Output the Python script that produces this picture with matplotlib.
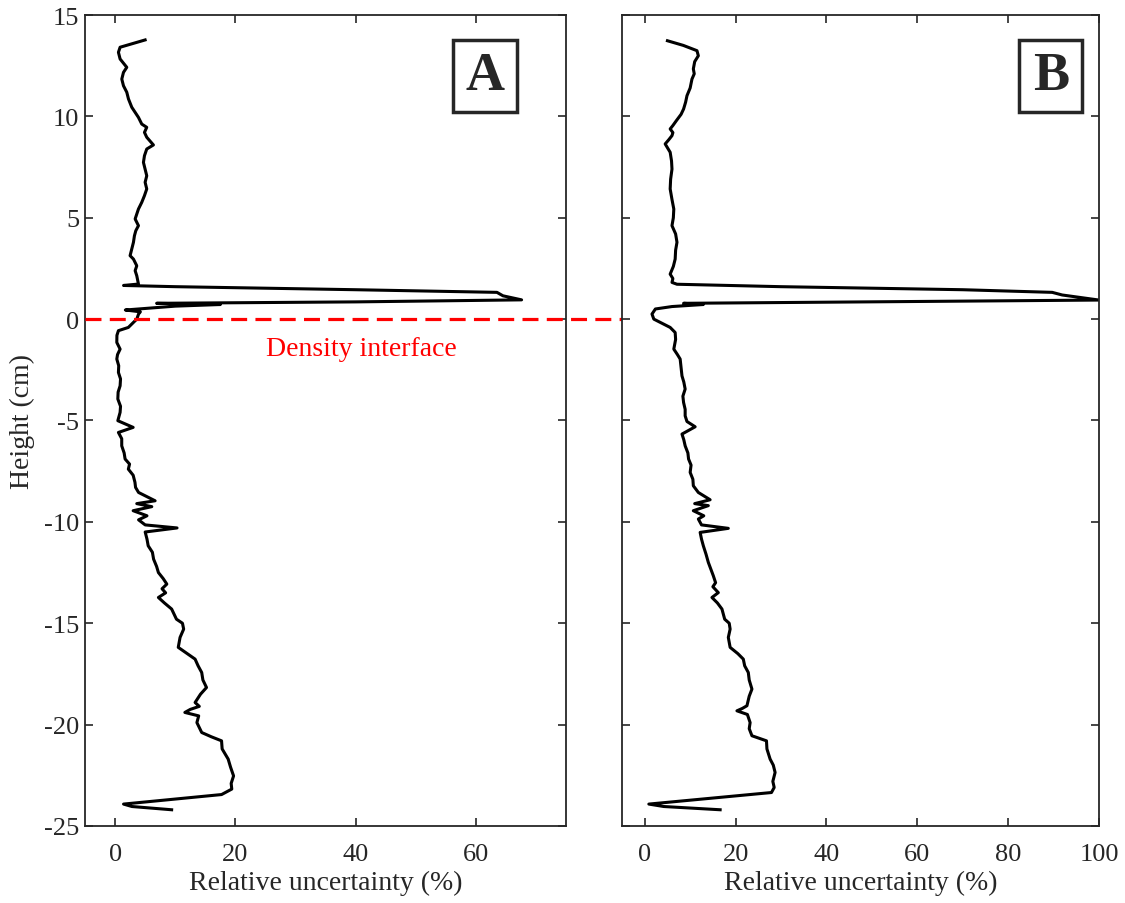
import matplotlib.pyplot as plt
import matplotlib.transforms as mtransforms
from matplotlib.patches import Rectangle

plt.rcParams['font.family'] = ['Liberation Serif', 'DejaVu Serif']
plt.rcParams['axes.unicode_minus'] = False

# height (cm) and relative uncertainty (%)
height_a = [13.77, 13.41, 13.16, 12.83, 12.42, 12.17, 11.84, 11.51, 11.19, 10.86,
            10.45, 10.2, 9.95, 9.62, 9.46, 9.21, 8.97, 8.59, 8.39, 8.06,
            7.73, 7.4, 7.07, 6.75, 6.42, 6.09, 5.76, 5.43, 5.18, 4.94,
            4.61, 4.36, 4.11, 3.79, 3.46, 3.13, 2.96, 2.63, 2.39, 2.14,
            1.73, 1.66, 1.6, 1.45, 1.32, 1.15, 0.95, 0.85, 0.78, 0.72,
            0.64, 0.45, 0.36, 0.25, 0.0, -0.41, -0.57, -0.8, -1.15, -1.48,
            -1.75, -1.97, -2.3, -2.63, -2.95, -3.29, -3.6, -3.94, -4.3, -4.6,
            -5.01, -5.34, -5.59, -5.9, -6.25, -6.6, -6.9, -7.15, -7.4, -7.7,
            -8.05, -8.3, -8.55, -8.96, -9.1, -9.25, -9.45, -9.7, -9.9, -10.15,
            -10.3, -10.5, -10.85, -11.18, -11.5, -11.84, -12.2, -12.5, -12.8, -13.07,
            -13.3, -13.5, -13.73, -14.0, -14.3, -14.8, -15.0, -15.29, -15.7, -16.19,
            -16.5, -16.77, -17.1, -17.43, -17.8, -18.17, -18.5, -18.91, -19.1, -19.25,
            -19.4, -19.57, -19.9, -20.39, -20.6, -20.8, -21.2, -21.7, -22.1, -22.53,
            -22.9, -23.18, -23.45, -23.92, -24.04, -24.2]
unc_a = [4.99, 0.83, 0.55, 0.83, 1.94, 1.39, 1.11, 1.39, 1.94, 2.22,
         2.77, 3.33, 3.88, 4.43, 5.26, 4.88, 5.26, 6.37, 5.26, 4.88,
         4.71, 4.99, 5.26, 4.99, 5.26, 4.88, 4.43, 3.88, 3.6, 3.33,
         3.88, 3.44, 3.21, 3.05, 2.77, 2.49, 3.05, 3.6, 3.33, 3.6,
         3.88, 1.4, 10, 40, 63.5, 64.5, 67.6, 40, 6.9, 17.5,
         10, 1.7, 4.2, 3.9, 3.6, 2.2, 0.55, 0.3, 0.28, 0.83,
         0.4, 0.28, 0.6, 0.55, 0.9, 0.83, 0.5, 0.45, 0.9, 0.83,
         0.45, 3.0, 0.55, 1.1, 1.1, 1.5, 1.66, 2.4, 2.2, 3.0,
         3.3, 3.4, 3.9, 6.65, 3.6, 6.1, 3.0, 5.3, 3.9, 5.0,
         10.3, 5.0, 5.3, 5.5, 6.2, 6.4, 6.9, 7.2, 8.0, 8.6,
         7.8, 8.4, 7.2, 8.2, 9.4, 10.2, 11.2, 11.4, 10.8, 10.5,
         12.0, 13.3, 13.8, 14.4, 14.6, 15.2, 14.2, 13.3, 14.0, 12.5,
         11.6, 13.9, 13.6, 14.4, 16.0, 17.7, 17.8, 18.8, 19.2, 19.7,
         19.3, 19.4, 17.7, 1.4, 2.8, 9.4]

height_b = [13.73, 13.5, 13.24, 12.99, 12.7, 12.34, 12.1, 11.84, 11.4, 11.02,
            10.7, 10.36, 10.1, 9.8, 9.55, 9.38, 9.2, 9.05, 8.85, 8.64,
            8.45, 8.23, 7.8, 7.4, 6.9, 6.42, 5.9, 5.43, 5.0, 4.61,
            4.2, 3.79, 3.4, 2.96, 2.6, 2.22, 2.0, 1.81, 1.72, 1.6,
            1.45, 1.32, 1.19, 0.94, 0.85, 0.78, 0.72, 0.62, 0.5, 0.25,
            0.0, -0.08, -0.41, -0.66, -1.0, -1.48, -1.75, -1.97, -2.4, -2.8,
            -3.1, -3.45, -3.8, -4.11, -4.45, -4.77, -5.05, -5.31, -5.67, -5.95,
            -6.25, -6.6, -6.9, -7.2, -7.56, -7.9, -8.22, -8.55, -8.91, -9.1,
            -9.2, -9.45, -9.7, -9.86, -10.15, -10.32, -10.52, -10.85, -11.18, -11.6,
            -12.0, -12.3, -12.66, -13.0, -13.2, -13.49, -13.73, -14.0, -14.3, -14.8,
            -15.0, -15.29, -15.7, -16.19, -16.5, -16.77, -17.1, -17.43, -17.8, -18.25,
            -18.6, -19.07, -19.2, -19.32, -19.5, -19.9, -20.2, -20.55, -20.8, -21.2,
            -21.7, -22.0, -22.36, -22.8, -23.1, -23.35, -23.92, -24.04, -24.2]
unc_b = [5.0, 8.5, 11.5, 11.8, 11.0, 10.7, 10.9, 10.4, 10.0, 9.3,
         9.0, 8.55, 8.0, 7.0, 6.2, 5.6, 6.2, 6.0, 5.3, 4.5,
         5.0, 5.6, 5.9, 6.0, 5.7, 5.6, 6.0, 6.4, 6.3, 6.0,
         6.8, 7.1, 6.8, 6.7, 6.3, 5.6, 6.2, 6.0, 7.1, 30,
         70, 89.7, 91.9, 100, 50, 8.55, 12.9, 6.0, 2.35, 1.6,
         2.0, 2.7, 5.6, 6.7, 6.8, 6.4, 7.2, 7.8, 8.0, 8.2,
         8.6, 8.9, 8.4, 8.55, 8.9, 8.9, 9.3, 11.1, 8.2, 8.6,
         8.9, 9.5, 9.65, 10.2, 10.0, 10.6, 10.7, 11.8, 14.4, 11.0,
         14.0, 10.7, 13.0, 11.8, 12.5, 18.4, 12.2, 12.5, 12.9, 13.5,
         14.0, 14.5, 15.1, 15.6, 15.0, 16.2, 14.8, 16.0, 17.0, 17.6,
         18.6, 18.8, 18.4, 18.8, 20.5, 21.7, 22.0, 22.8, 23.0, 23.6,
         23.0, 22.5, 21.5, 20.3, 22.6, 23.2, 23.0, 23.6, 26.8, 26.9,
         27.6, 28.3, 28.7, 28.2, 28.5, 27.9, 0.9, 4.2, 16.6]

ticks_a = [0, 20, 40, 60]
ticks_b = [0, 20, 40, 60, 80, 100]
ticks_y = [-25, -20, -15, -10, -5, 0, 5, 10, 15]

grey = '#262626'

fig = plt.figure(figsize=(11.25, 9.04), dpi=100)
ax_a = fig.add_axes([0.0756, 0.0852, 0.4276, 0.8971])
ax_b = fig.add_axes([0.5529, 0.0852, 0.4240, 0.8971])

for ax, x, y, xt, xmax, label in [(ax_a, unc_a, height_a, ticks_a, 75, 'A'),
                                  (ax_b, unc_b, height_b, ticks_b, 100, 'B')]:
    ax.plot(x, y, color='black', lw=2.2, solid_joinstyle='round')
    ax.set_xlim(-5, xmax)
    ax.set_ylim(-25, 15)
    ax.set_xticks(xt)
    ax.set_yticks(ticks_y)
    ax.tick_params(direction='in', length=6, width=1.2, colors=grey,
                   labelsize=19, top=True, right=True)
    ax.tick_params(axis='x', pad=12)
    ax.tick_params(axis='y', pad=4)
    for s in ax.spines.values():
        s.set_color(grey)
        s.set_linewidth(1.3)
    ax.set_xlabel('Relative uncertainty (%)', fontsize=20, color=grey, labelpad=4)
    ax.add_patch(Rectangle((0.765 if label == 'A' else 0.833, 0.88), 0.132, 0.0895,
                           transform=ax.transAxes, fill=False, lw=2.5,
                           edgecolor=grey, zorder=5))
    ax.text(0.831 if label == 'A' else 0.899, 0.9245, label, transform=ax.transAxes,
            ha='center', va='center', fontsize=39, fontweight='bold', color=grey)

ax_b.tick_params(labelleft=False)
ax_a.set_ylabel('Height (cm)', fontsize=20, color=grey, va='center')
ax_a.yaxis.set_label_coords(-0.131, 0.5)

# density interface line spanning both panels
trans = mtransforms.blended_transform_factory(fig.transFigure, ax_a.transData)
x0 = ax_a.get_position().x0
x1 = ax_b.get_position().x1
ax_a.plot([x0, x1], [0, 0], transform=trans, color='#ff0000', lw=2.3,
          dashes=(5, 2.6), clip_on=False, zorder=6)
ax_a.text(41, -1.45, 'Density interface', color='#ff0000', fontsize=20,
          ha='center', va='center')

fig.savefig('out.png', dpi=100)
